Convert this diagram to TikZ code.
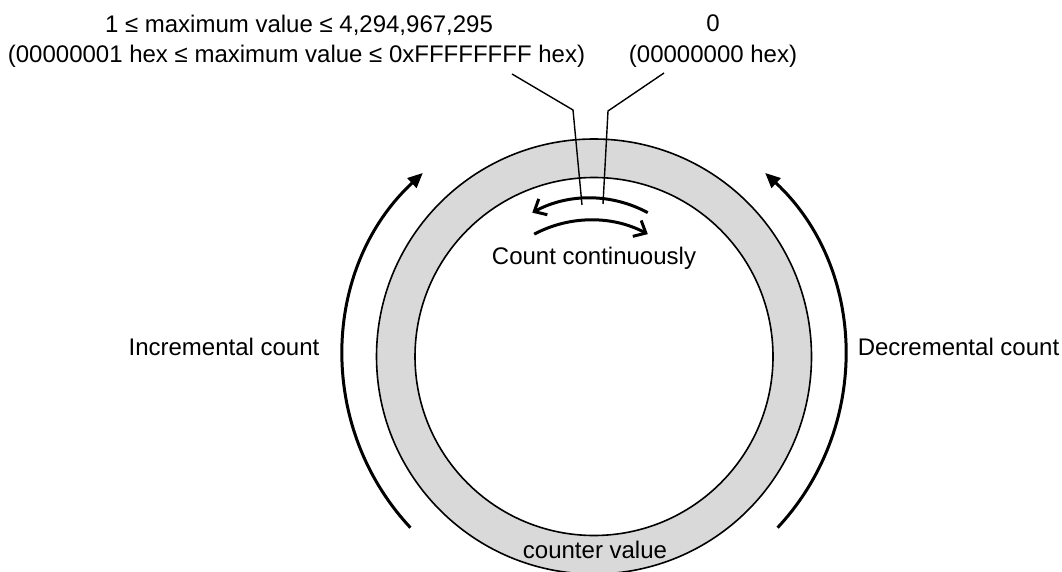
\documentclass[tikz,border=0pt]{standalone}
\usepackage{fontspec}
\setmainfont{Liberation Sans}
\usetikzlibrary{arrows.meta}
\definecolor{ringgray}{RGB}{217,217,217}
\begin{document}
\begin{tikzpicture}[x=1pt,y=1pt,
  lbl/.style={anchor=base, inner sep=0pt, font=\fontsize{24}{28}\selectfont},
  ringline/.style={line width=1.6pt},
  leader/.style={line width=1.4pt},
  bigarrow/.style={line width=3pt, -{Triangle[length=15pt,width=13pt]}},
  smallarrow/.style={line width=3pt, -{Straight Barb[length=10pt,width=18pt]}}]
\useasboundingbox (0,0) rectangle (1062,571);
\clip (0,0) rectangle (1062,571);
% ring
\coordinate (C) at (594,214.5);
\fill[ringgray, even odd rule] (C) circle[radius=217.5] (C) circle[radius=179];
\draw[ringline] (C) circle[radius=217.5];
\draw[ringline] (C) circle[radius=179];
% big arrows
\draw[bigarrow] (C) ++(223:251) arc[start angle=223,end angle=133,radius=251];
\draw[bigarrow] (C) ++(-43:251) arc[start angle=-43,end angle=47,radius=251];
% small arrows
\coordinate (U) at (590,252);
\coordinate (D) at (591,230);
\draw[smallarrow] (U) ++(61.5:121) arc[start angle=61.5,end angle=118.5,radius=121];
\draw[smallarrow] (D) ++(118:121) arc[start angle=118,end angle=62,radius=121];
% texts
\node[lbl] (max1) at (299,538) {1 ≤ maximum value ≤ 4,294,967,295};
\node[lbl] (max2) at (296.5,508) {(00000001 hex ≤ maximum value ≤ 0xFFFFFFFF hex)};
\node[lbl] (zero1) at (713,539) {0};
\node[lbl] (zero2) at (713,508) {(00000000 hex)};
\node[lbl] (inc) at (224,216) {Incremental count};
\node[lbl] (dec) at (958.5,216) {Decremental count};
\node[lbl] (cont) at (594,306) {Count continuously};
\node[lbl] (cv) at (595,13) {counter value};
% leaders
\coordinate (L0) at (512,497);
\coordinate (L1) at (573,461);
\coordinate (L2) at (582,366);
\coordinate (R0) at (664,498);
\coordinate (R1) at (608,460);
\coordinate (R2) at (603,367);
\draw[leader] (L0) -- (L1) -- (L2);
\draw[leader] (R0) -- (R1) -- (R2);
\end{tikzpicture}
\end{document}
